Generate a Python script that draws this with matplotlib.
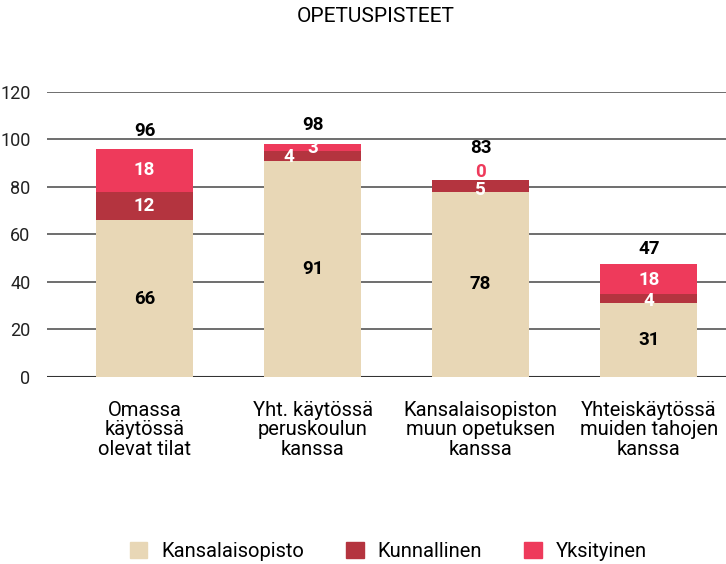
import numpy as np
import matplotlib.pyplot as plt

plt.rcParams['font.family'] = ['Roboto', 'DejaVu Sans']

# data
categories = ["Omassa\nkäytössä\nolevat tilat",
              "Yht. käytössä\nperuskoulun\nkanssa",
              "Kansalaisopiston\nmuun opetuksen\nkanssa",
              "Yhteiskäytössä\nmuiden tahojen\nkanssa"]
series_names = ["Kansalaisopisto", "Kunnallinen", "Yksityinen"]
kansalaisopisto = [66, 91, 78, 31]
kunnallinen = [12, 4, 5, 4]
yksityinen = [18, 3, 0, 12.5]          # drawn height as it appears in the picture
yksityinen_labels = [18, 3, 0, 18]     # label printed in the picture
totals = [96, 98, 83, 47]

colors = ["#E8D7B6", "#B4343F", "#EE3A5B"]

fig = plt.figure(figsize=(7.26, 5.64), dpi=100)
ax = fig.add_axes([0.065, 0.3316, 0.935, 0.5053])

x = np.arange(len(categories))
w = 0.58
k = np.array(kansalaisopisto, dtype=float)
ku = np.array(kunnallinen, dtype=float)
y = np.array(yksityinen, dtype=float)

ax.bar(x, k, w, color=colors[0], zorder=3)
ax.bar(x, ku, w, bottom=k, color=colors[1], zorder=3)
ax.bar(x, y, w, bottom=k + ku, color=colors[2], zorder=3)

ax.set_ylim(0, 120)
ax.set_xlim(-0.58, 3.46)
ax.set_yticks(np.arange(0, 121, 20))
ax.yaxis.grid(True, color="#555555", linewidth=1.2, zorder=0)
ax.tick_params(axis="y", length=0, pad=12, labelsize=13, labelcolor="#222222")
ax.tick_params(axis="x", length=0, pad=17, labelsize=14.5)
ax.set_xticks(x)
ax.set_xticklabels(categories, linespacing=1.05)
for s in ax.spines.values():
    s.set_visible(False)
ax.axhline(0, color="#333333", linewidth=1.5, zorder=2)

lab = dict(ha="center", va="center", fontsize=13.5, fontweight="bold")
# segment labels
for i in range(len(x)):
    ax.text(x[i], k[i] / 2, str(kansalaisopisto[i]), color="black", **lab)
ax.text(x[0], k[0] + ku[0] / 2, str(kunnallinen[0]), color="white", **lab)
ax.text(x[0], k[0] + ku[0] + y[0] / 2, str(yksityinen_labels[0]), color="white", **lab)
ax.text(x[1] - 0.14, k[1] + ku[1] / 2 - 0.5, str(kunnallinen[1]), color="white", **lab)
ax.text(x[1], k[1] + ku[1] + 1.5, str(yksityinen_labels[1]), color="white", **lab)
ax.text(x[2], k[2] + ku[2] / 2 - 1.8, str(kunnallinen[2]), color="white", **lab)
ax.text(x[2], k[2] + ku[2] + 3.5, str(yksityinen_labels[2]), color=colors[2], **lab)
ax.text(x[3], k[3] + ku[3] / 2 - 1.0, str(kunnallinen[3]), color="white", **lab)
ax.text(x[3], k[3] + ku[3] + y[3] / 2 - 0.5, str(yksityinen_labels[3]), color="white", **lab)

# totals
offsets = [7.5, 8.0, 13.5, 6.5]
for i in range(len(x)):
    ax.text(x[i], k[i] + ku[i] + y[i] + offsets[i], str(totals[i]), color="black", **lab)

fig.text(0.517, 0.97, "OPETUSPISTEET", ha="center", va="center", fontsize=15)

handles = [plt.Rectangle((0, 0), 1, 1, color=c) for c in colors]
fig.legend(handles, series_names, loc="center", bbox_to_anchor=(0.535, 0.022),
           ncol=3, frameon=False, fontsize=14.5, handlelength=0.85, handleheight=0.85,
           columnspacing=2.1, handletextpad=0.7)

fig.savefig("out.png", dpi=100)
